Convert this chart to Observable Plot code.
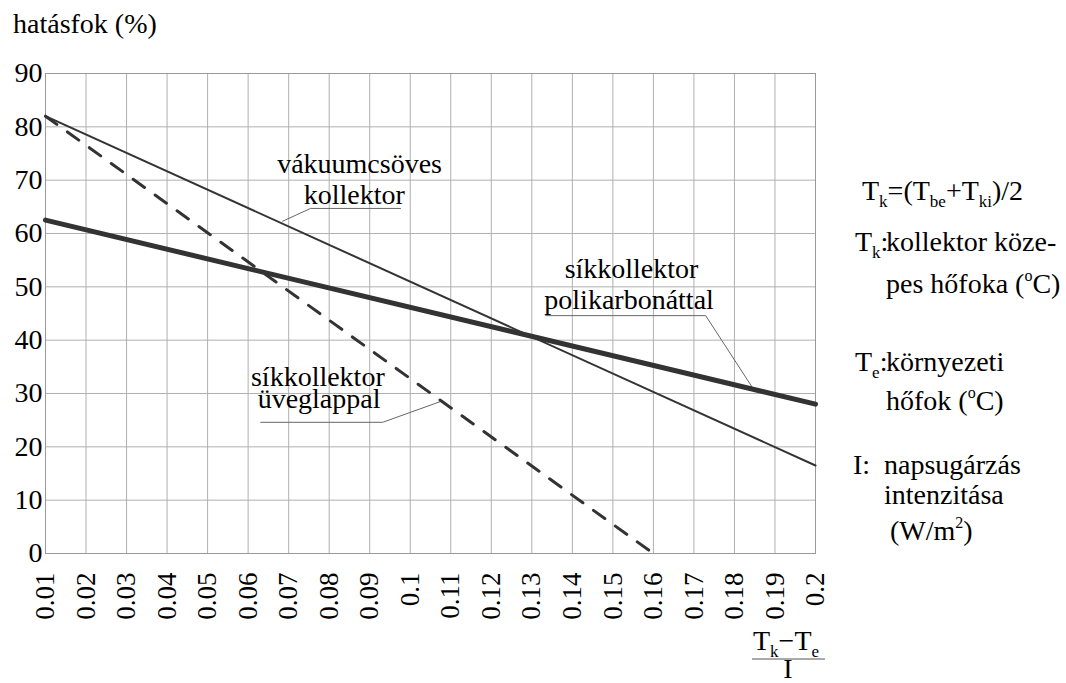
<!DOCTYPE html>
<html><head><meta charset="utf-8">
<script src="https://cdn.jsdelivr.net/npm/d3@7"></script>
<script src="https://cdn.jsdelivr.net/npm/@observablehq/plot@0.6"></script>
</head><body style="margin:0;background:#fff">
<div id="chart" style="position:relative;width:1066px;height:683px"></div>
<script>
// ---- data ----
const xTicks = [0.01,0.02,0.03,0.04,0.05,0.06,0.07,0.08,0.09,0.1,0.11,0.12,0.13,0.14,0.15,0.16,0.17,0.18,0.19,0.2];
const xTickLabels = ["0.01","0.02","0.03","0.04","0.05","0.06","0.07","0.08","0.09","0.1","0.11","0.12","0.13","0.14","0.15","0.16","0.17","0.18","0.19","0.2"];
const yTicks = [0,10,20,30,40,50,60,70,80,90];

// vákuumcsöves kollektor (thin solid)
const vakuumX = [0.01, 0.2];
const vakuumY = [82, 16.5];
// síkkollektor polikarbonáttal (thick solid)
const polyX = [0.01, 0.2];
const polyY = [62.5, 28];
// síkkollektor üveglappal (dashed)
const uvegX = [0.01, 0.16];
const uvegY = [82, 0];

// in-plot labels
const labelText = ["vákuumcsöves","kollektor","síkkollektor","üveglappal","síkkollektor","polikarbonáttal"];
const labelX = [0.0875, 0.0862, 0.0772, 0.0775, 0.1546, 0.154];
const labelY = [71.4, 65.6, 31.5, 27.2, 51.75, 45.9];

// leader lines
const leaderVakuumX = [0.0685, 0.0754, 0.0976];
const leaderVakuumY = [62.3, 64.7, 64.7];
const leaderUvegX = [0.0631, 0.0932, 0.1075];
const leaderUvegY = [24.6, 24.6, 28.5];
const leaderPolyX = [0.1334, 0.1729, 0.1847];
const leaderPolyY = [44.6, 44.6, 30.8];

// ---- build tables ----
const toPts = (xs, ys) => xs.map((x, i) => ({x, y: ys[i]}));
const labels = labelText.map((t, i) => ({text: t, x: labelX[i], y: labelY[i]}));
const leaders = [
  ...toPts(leaderVakuumX, leaderVakuumY).map(d => ({...d, g: "v"})),
  ...toPts(leaderUvegX, leaderUvegY).map(d => ({...d, g: "u"})),
  ...toPts(leaderPolyX, leaderPolyY).map(d => ({...d, g: "p"}))
];
const tickLabelMap = new Map(xTicks.map((t, i) => [Math.round(t * 100), xTickLabels[i]]));
const lineInk = "#333";
const textInk = "black";
const serif = "Times New Roman";

const plot = Plot.plot({
  width: 1066,
  height: 683,
  marginLeft: 45,
  marginRight: 251,
  marginTop: 73,
  marginBottom: 130,
  style: {fontFamily: serif, fontSize: "28px", background: "#fff"},
  x: {domain: [0.01, 0.2]},
  y: {domain: [0, 90]},
  marks: [
    Plot.gridX(xTicks, {stroke: "#b0b0b0", strokeOpacity: 1, strokeWidth: 1}),
    Plot.gridY(yTicks, {stroke: "#b0b0b0", strokeOpacity: 1, strokeWidth: 1}),
    Plot.frame({stroke: "#999", strokeWidth: 1}),
    Plot.axisX({ticks: xTicks, tickFormat: d => tickLabelMap.get(Math.round(d * 100)), tickRotate: -90, tickSize: 0, tickPadding: 19, fontSize: 27, label: null}),
    Plot.axisY({ticks: yTicks, tickSize: 0, tickPadding: 3, fontSize: 28, label: null}),
    Plot.line(leaders, {x: "x", y: "y", z: "g", stroke: "#666", strokeWidth: 1}),
    Plot.line(toPts(uvegX, uvegY), {x: "x", y: "y", stroke: lineInk, strokeWidth: 3, strokeDasharray: "14,13"}),
    Plot.line(toPts(vakuumX, vakuumY), {x: "x", y: "y", stroke: lineInk, strokeWidth: 2}),
    Plot.line(toPts(polyX, polyY), {x: "x", y: "y", stroke: lineInk, strokeWidth: 5}),
    Plot.text(labels, {x: "x", y: "y", text: "text", textAnchor: "middle", lineAnchor: "bottom", fontSize: 28})
  ]
});
document.getElementById("chart").appendChild(plot);

// ---- extra texts (title, formula legend, axis title) ----
const svg = d3.select(plot);
function addText(x, y, parts, anchor) {
  const t = svg.append("text").attr("x", x).attr("y", y)
    .attr("font-size", 28).attr("font-family", serif).attr("text-anchor", anchor || "start");
  let shift = 0;
  parts.forEach(p => {
    const [s, kind] = Array.isArray(p) ? p : [p, null];
    const target = kind === "sub" ? 7 : kind === "sup" ? -12 : 0;
    const ts = t.append("tspan").text(s).attr("dy", target - shift);
    if (kind) ts.attr("font-size", kind === "sub" ? 17 : 16);
    shift = target;
  });
  return t;
}
addText(13, 33, ["hatásfok (%)"]);

addText(862, 200, ["T", ["k","sub"], "=(T", ["be","sub"], "+T", ["ki","sub"], ")/2"]);
addText(855, 251, ["T", ["k","sub"], ":"]);
addText(886, 251, ["kollektor köze-"]);
addText(886, 293, ["pes hőfoka (", ["o","sup"], "C)"]);
addText(855, 371, ["T", ["e","sub"], ":"]);
addText(886, 371, ["környezeti"]);
addText(886, 410, ["hőfok (", ["o","sup"], "C)"]);
addText(853, 474, ["I:"]);
addText(884, 474, ["napsugárzás"]);
addText(884, 504, ["intenzitása"]);
addText(890, 540, ["(W/m", ["2","sup"], ")"]);

addText(753, 650, ["T", ["k","sub"], "−T", ["e","sub"]]);
svg.append("line").attr("x1", 752).attr("x2", 825).attr("y1", 659).attr("y2", 659).attr("stroke", "#555").attr("stroke-width", 1);
addText(788, 678, ["I"], "middle");
</script></body></html>
